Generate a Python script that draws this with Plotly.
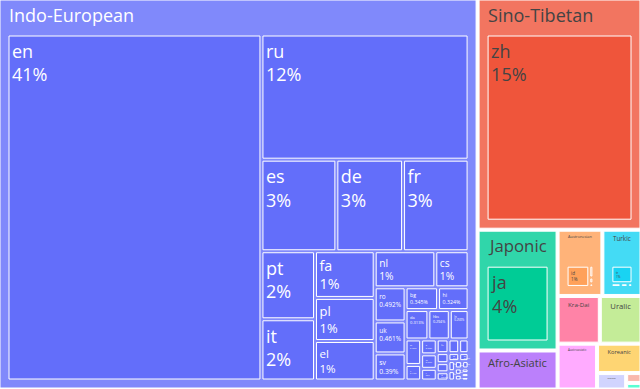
import plotly.graph_objects as go

# language families (top level), in descending size
families = ["Indo-European", "Sino-Tibetan", "Japonic", "Afro-Asiatic", "Austronesian",
            "Turkic", "Kra-Dai", "Uralic", "Austroasiatic", "Koreanic",
            "Dravidian", "Kartvelian", "Niger-Congo"]

# languages, their family and share (%)
langs = ["en", "ru", "es", "de", "fr", "pt", "it", "fa", "pl", "el", "nl", "cs",
         "ro", "uk", "sv", "bg", "hi", "da", "hbs", "ln",
         "sk", "lt", "sl", "ca", "lv", "be", "mk", "hy", "bn", "ur", "is", "sq",
         "ga", "mr", "ne", "cy", "af", "pa", "gu", "ku", "lb", "fy",
         "zh",
         "ja",
         "ar", "he", "am", "so",
         "id", "ms", "tl", "jv",
         "tr", "az", "kk", "uz",
         "th",
         "hu", "fi", "et",
         "vi", "km",
         "ko",
         "ta", "te", "ml",
         "ka",
         "sw"]
lang_family = (["Indo-European"] * 42 + ["Sino-Tibetan"] + ["Japonic"]
               + ["Afro-Asiatic"] * 4 + ["Austronesian"] * 4 + ["Turkic"] * 4
               + ["Kra-Dai"] + ["Uralic"] * 3 + ["Austroasiatic"] * 2 + ["Koreanic"]
               + ["Dravidian"] * 3 + ["Kartvelian"] + ["Niger-Congo"])
lang_values = [41.0, 12.1, 3.2, 2.85, 2.8, 1.7, 1.53, 1.3, 1.2, 1.1, 1.02, 0.56,
               0.492, 0.461, 0.39, 0.345, 0.324, 0.313, 0.294, 0.258,
               0.185, 0.113, 0.108, 0.105, 0.085, 0.075, 0.068, 0.06, 0.055, 0.05, 0.045, 0.04,
               0.035, 0.03, 0.028, 0.025, 0.022, 0.02, 0.018, 0.015, 0.013, 0.011,
               15.06,
               3.84,
               0.82, 0.33, 0.05, 0.04,
               1.0, 0.1, 0.05, 0.03,
               0.85, 0.08, 0.06, 0.04,
               0.8,
               0.4, 0.3, 0.09,
               0.7, 0.02,
               0.52,
               0.1, 0.05, 0.04,
               0.06,
               0.04]

ids = families + [f + "/" + l for f, l in zip(lang_family, langs)]
labels = families + langs
parents = [""] * len(families) + lang_family
values = [0] * len(families) + lang_values
templates = ["%{label}"] * len(families) + ["%{label}<br>%{percentRoot}"] * len(langs)

fig = go.Figure(go.Treemap(
    ids=ids,
    labels=labels,
    parents=parents,
    values=values,
    branchvalues="remainder",
    texttemplate=templates,
    textfont=dict(size=18),
    pathbar=dict(visible=False),
))
# the hidden top node keeps its own padding, so the page is shifted to hide it
fig.update_layout(
    width=658, height=433,
    margin=dict(l=0, r=0, t=0, b=0),
    hovermode=False,
)
shift = ("var gd = document.getElementById('{plot_id}');"
         "document.body.style.margin = '0';"
         "document.body.style.overflow = 'hidden';"
         "gd.style.position = 'absolute';"
         "gd.style.left = '-9px';"
         "gd.style.top = '-36px';")
fig.write_html("out.html", post_script=shift, config={"staticPlot": True})
